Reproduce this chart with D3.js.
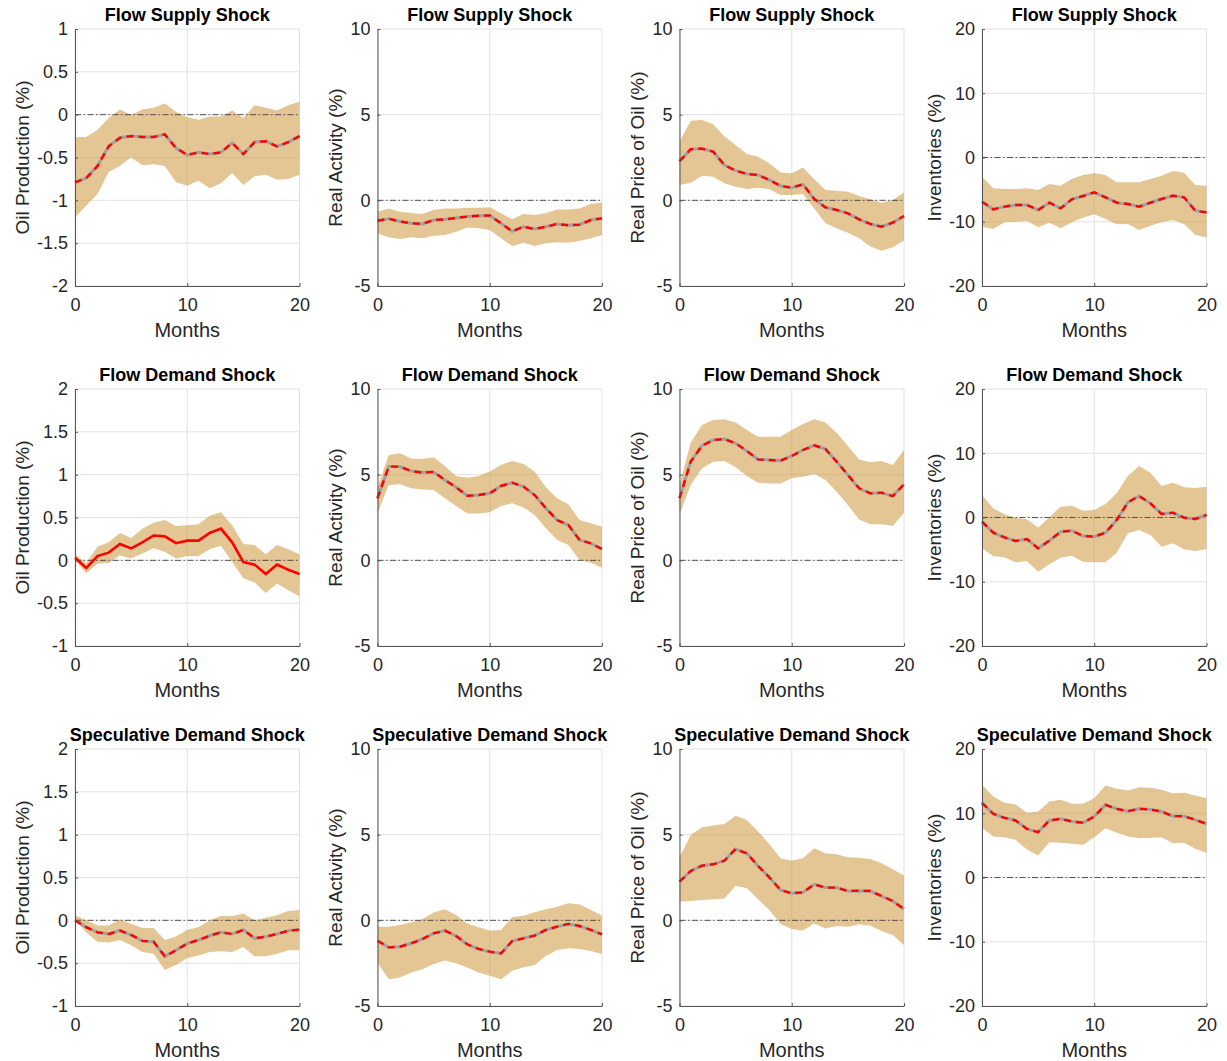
<!DOCTYPE html>
<html>
<head>
<meta charset="utf-8">
<script src="https://cdn.jsdelivr.net/npm/d3@7"></script>
<style>
  body { margin: 0; background: #fff; }
  svg { font-family: "Liberation Sans", Arial, Helvetica, sans-serif; }
  .tick text { fill: #262626; font-size: 18px; }
  .domain { stroke: #555; }
  .tick line { stroke: #555; }
</style>
</head>
<body>
<div id="chart"></div>
<script>
// horizon (months after the shock)
const months = [0, 1, 2, 3, 4, 5, 6, 7, 8, 9, 10, 11, 12, 13, 14, 15, 16, 17, 18, 19, 20];

const shockTitles = ["Flow Supply Shock", "Flow Demand Shock", "Speculative Demand Shock"];
const varLabels = ["Oil Production (%)", "Real Activity (%)", "Real Price of Oil (%)", "Inventories (%)"];
const xTicks = [0, 10, 20];

// y-axis limits and ticks per panel row/column
const oilDomainSupply = [-2, 1];
const oilDomainOther = [-1, 2];
const oilTicksSupply = [-2, -1.5, -1, -0.5, 0, 0.5, 1];
const oilTicksOther = [-1, -0.5, 0, 0.5, 1, 1.5, 2];
const pctDomain = [-5, 10];
const pctTicks = [-5, 0, 5, 10];
const invDomain = [-20, 20];
const invTicks = [-20, -10, 0, 10, 20];

// ---- flow supply shock
const supplyOilMed = [-0.79,-0.74,-0.60,-0.37,-0.27,-0.25,-0.26,-0.26,-0.23,-0.39,-0.47,-0.44,-0.46,-0.44,-0.33,-0.46,-0.32,-0.31,-0.37,-0.32,-0.25];
const supplyOilHi = [-0.26,-0.26,-0.18,-0.04,0.06,0.00,0.06,0.08,0.13,0.035,-0.03,-0.06,-0.02,-0.02,0.05,-0.04,0.11,0.08,0.05,0.11,0.15];
const supplyOilLo = [-1.20,-1.06,-0.93,-0.67,-0.60,-0.50,-0.59,-0.58,-0.60,-0.79,-0.83,-0.77,-0.86,-0.80,-0.68,-0.82,-0.72,-0.70,-0.76,-0.75,-0.70];

const supplyActMed = [-1.19,-1.07,-1.23,-1.34,-1.38,-1.15,-1.11,-1.03,-0.95,-0.90,-0.88,-1.34,-1.81,-1.54,-1.67,-1.54,-1.38,-1.46,-1.42,-1.15,-1.05];
const supplyActHi = [-0.66,-0.47,-0.66,-0.74,-0.80,-0.56,-0.47,-0.47,-0.43,-0.43,-0.41,-0.76,-1.11,-0.80,-0.86,-0.76,-0.53,-0.53,-0.47,-0.21,-0.12];
const supplyActLo = [-1.93,-2.16,-2.26,-2.16,-2.22,-2.06,-2.02,-1.83,-1.58,-1.63,-1.73,-2.22,-2.67,-2.47,-2.67,-2.51,-2.45,-2.47,-2.37,-2.22,-2.02];

const supplyPriceMed = [2.28,2.98,3.02,2.84,2.06,1.73,1.54,1.48,1.19,0.84,0.74,0.93,0.08,-0.41,-0.56,-0.76,-1.11,-1.38,-1.54,-1.30,-0.91];
const supplyPriceHi = [3.42,4.65,4.69,4.44,3.72,3.23,2.70,2.55,2.16,1.63,1.58,1.91,1.23,0.60,0.56,0.50,0.25,0.06,-0.14,0.02,0.45];
const supplyPriceLo = [0.89,1.03,1.44,1.38,0.99,0.80,0.66,0.74,0.64,0.31,0.31,0.37,-0.47,-1.34,-1.63,-1.89,-2.22,-2.70,-2.94,-2.74,-2.35];

const supplyInvMed = [-6.87,-8.07,-7.65,-7.39,-7.39,-8.17,-7.03,-7.91,-6.51,-5.99,-5.42,-6.20,-7.03,-7.24,-7.65,-7.03,-6.46,-5.94,-6.20,-8.28,-8.54];
const supplyInvHi = [-2.98,-4.80,-4.90,-4.90,-4.80,-5.06,-4.12,-4.38,-3.35,-2.72,-2.46,-2.72,-3.86,-3.86,-3.86,-3.35,-2.83,-2.10,-2.36,-4.28,-4.38];
const supplyInvLo = [-10.77,-11.13,-10.09,-9.99,-9.88,-10.87,-10.14,-11.03,-10.09,-9.36,-8.85,-9.57,-10.40,-10.35,-11.29,-10.61,-10.09,-9.73,-10.35,-12.06,-12.43];

// ---- flow demand shock
const demandOilMed = [0.03,-0.09,0.05,0.09,0.19,0.14,0.21,0.29,0.28,0.20,0.23,0.23,0.32,0.37,0.21,-0.02,-0.05,-0.16,-0.05,-0.11,-0.16];
const demandOilHi = [0.07,-0.03,0.16,0.21,0.32,0.26,0.37,0.44,0.47,0.40,0.41,0.42,0.52,0.56,0.41,0.19,0.18,0.07,0.18,0.13,0.07];
const demandOilLo = [0.00,-0.15,-0.04,-0.03,0.06,0.02,0.08,0.14,0.10,0.02,0.05,0.05,0.13,0.17,-0.02,-0.21,-0.26,-0.38,-0.27,-0.35,-0.42];

const demandActMed = [3.62,5.47,5.47,5.21,5.12,5.16,4.69,4.26,3.77,3.81,3.91,4.34,4.53,4.30,3.81,3.04,2.35,2.06,1.19,0.99,0.66];
const demandActHi = [4.26,6.15,6.25,5.95,5.91,6.01,5.51,4.92,4.82,4.92,5.18,5.56,5.80,5.62,5.18,4.26,3.62,3.27,2.35,2.16,1.96];
const demandActLo = [2.74,4.40,4.44,4.20,4.14,4.10,3.62,3.17,2.74,2.74,2.80,3.17,3.33,3.09,2.65,1.87,1.19,0.89,0.02,-0.14,-0.43];

const demandPriceMed = [3.62,5.76,6.69,7.02,7.08,6.83,6.38,5.89,5.86,5.82,6.09,6.44,6.71,6.50,5.76,4.98,4.20,3.91,3.95,3.75,4.44];
const demandPriceHi = [4.40,6.87,7.90,8.19,8.23,8.04,7.61,7.22,7.22,7.22,7.61,7.96,8.23,8.04,7.45,6.67,5.89,5.72,5.80,5.56,6.44];
const demandPriceLo = [2.65,4.40,5.37,5.76,5.80,5.43,4.92,4.53,4.49,4.49,4.79,4.88,5.04,4.69,4.01,3.23,2.39,2.10,2.10,2.00,2.78];

const demandInvMed = [-0.65,-2.36,-3.09,-3.66,-3.35,-4.80,-3.61,-2.21,-2.05,-2.88,-2.98,-2.36,-0.39,2.36,3.35,2.20,0.54,0.75,-0.03,-0.23,0.39];
const demandInvHi = [3.50,1.43,0.49,-0.03,-0.29,-1.58,0.03,1.69,1.84,1.06,1.17,2.10,3.76,6.51,8.01,6.98,4.90,5.42,4.70,4.59,4.80];
const demandInvLo = [-4.80,-5.99,-6.20,-6.98,-6.77,-8.43,-7.29,-6.25,-5.94,-6.87,-6.98,-6.98,-5.47,-2.46,-1.95,-2.72,-4.54,-4.02,-4.95,-5.21,-4.90];

// ---- speculative demand shock
const specOilMed = [0.00,-0.08,-0.14,-0.16,-0.12,-0.17,-0.24,-0.25,-0.42,-0.35,-0.27,-0.23,-0.18,-0.14,-0.16,-0.11,-0.21,-0.19,-0.16,-0.12,-0.11];
const specOilHi = [0.06,0.00,-0.06,-0.06,0.01,-0.04,-0.09,-0.09,-0.23,-0.19,-0.11,-0.08,0.00,0.05,0.05,0.08,0.00,0.03,0.06,0.11,0.12];
const specOilLo = [0.00,-0.14,-0.25,-0.26,-0.23,-0.29,-0.37,-0.39,-0.58,-0.52,-0.44,-0.41,-0.37,-0.36,-0.37,-0.31,-0.42,-0.42,-0.39,-0.35,-0.35];

const specActMed = [-1.19,-1.58,-1.54,-1.34,-1.09,-0.76,-0.60,-0.91,-1.40,-1.67,-1.83,-1.93,-1.21,-1.05,-0.89,-0.56,-0.37,-0.21,-0.33,-0.56,-0.82];
const specActHi = [-0.37,-0.37,-0.27,-0.12,0.08,0.45,0.64,0.31,-0.18,-0.41,-0.60,-0.56,0.18,0.27,0.47,0.64,0.80,0.99,0.93,0.60,0.27];
const specActLo = [-2.47,-3.44,-3.33,-3.05,-2.86,-2.55,-2.35,-2.51,-2.76,-3.04,-3.23,-3.44,-2.94,-2.74,-2.61,-2.08,-1.73,-1.63,-1.67,-1.79,-1.96];

const specPriceMed = [2.26,2.88,3.19,3.27,3.48,4.16,3.91,3.17,2.51,1.77,1.58,1.63,2.10,1.91,1.91,1.71,1.73,1.71,1.42,1.13,0.66];
const specPriceHi = [3.68,4.98,5.43,5.53,5.62,6.11,5.86,5.18,4.46,3.62,3.48,3.62,4.20,3.91,3.85,3.68,3.66,3.58,3.33,2.98,2.61];
const specPriceLo = [1.09,1.13,1.19,1.23,1.28,2.02,1.87,1.23,0.60,-0.21,-0.51,-0.60,-0.18,-0.47,-0.33,-0.37,-0.23,-0.31,-0.62,-0.86,-1.44];

const specInvMed = [11.62,9.91,9.29,8.87,7.57,7.06,8.87,9.13,8.72,8.51,9.49,11.31,10.69,10.32,10.69,10.58,10.27,9.55,9.55,8.98,8.35];
const specInvHi = [14.42,12.61,11.62,11.36,10.06,10.27,11.83,12.09,11.47,11.47,12.35,14.32,13.80,13.54,14.06,13.96,13.64,13.12,13.18,12.76,12.35];
const specInvLo = [7.73,6.38,6.28,5.86,4.36,3.42,5.50,5.40,5.24,5.08,6.28,7.68,6.95,6.38,6.12,6.17,6.28,5.34,5.40,4.46,3.84];

// panels: [row][col] -> {med, lo, hi}
const panels = [
    [
        {med: supplyOilMed, lo: supplyOilLo, hi: supplyOilHi, domain: oilDomainSupply, ticks: oilTicksSupply},
        {med: supplyActMed, lo: supplyActLo, hi: supplyActHi, domain: pctDomain, ticks: pctTicks},
        {med: supplyPriceMed, lo: supplyPriceLo, hi: supplyPriceHi, domain: pctDomain, ticks: pctTicks},
        {med: supplyInvMed, lo: supplyInvLo, hi: supplyInvHi, domain: invDomain, ticks: invTicks}
    ],
    [
        {med: demandOilMed, lo: demandOilLo, hi: demandOilHi, domain: oilDomainOther, ticks: oilTicksOther, solid: true},
        {med: demandActMed, lo: demandActLo, hi: demandActHi, domain: pctDomain, ticks: pctTicks},
        {med: demandPriceMed, lo: demandPriceLo, hi: demandPriceHi, domain: pctDomain, ticks: pctTicks},
        {med: demandInvMed, lo: demandInvLo, hi: demandInvHi, domain: invDomain, ticks: invTicks}
    ],
    [
        {med: specOilMed, lo: specOilLo, hi: specOilHi, domain: oilDomainOther, ticks: oilTicksOther},
        {med: specActMed, lo: specActLo, hi: specActHi, domain: pctDomain, ticks: pctTicks},
        {med: specPriceMed, lo: specPriceLo, hi: specPriceHi, domain: pctDomain, ticks: pctTicks},
        {med: specInvMed, lo: specInvLo, hi: specInvHi, domain: invDomain, ticks: invTicks}
    ]
];

// layout
const W = 1227, H = 1061;
const colLeft = [75, 377.5, 679.5, 982];
const rowTop = [29, 389, 749];
const plotW = 224.5, plotH = 257;

const svg = d3.select("#chart").append("svg")
    .attr("width", W)
    .attr("height", H);

panels.forEach((row, r) => {
    row.forEach((p, c) => {
        const g = svg.append("g")
            .attr("transform", "translate(" + colLeft[c] + "," + rowTop[r] + ")");

        const x = d3.scaleLinear().domain([0, 20]).range([0, plotW]);
        const y = d3.scaleLinear().domain(p.domain).range([plotH, 0]);

        // grid
        g.append("g").selectAll("line.gy")
            .data(p.ticks)
            .enter().append("line")
            .attr("x1", 0).attr("x2", plotW)
            .attr("y1", d => y(d)).attr("y2", d => y(d))
            .attr("stroke", "#e2e2e2").attr("stroke-width", 1);
        g.append("g").selectAll("line.gx")
            .data(xTicks)
            .enter().append("line")
            .attr("x1", d => x(d)).attr("x2", d => x(d))
            .attr("y1", 0).attr("y2", plotH)
            .attr("stroke", "#e2e2e2").attr("stroke-width", 1);

        // confidence band
        const area = d3.area()
            .x((d, i) => x(months[i]))
            .y0((d, i) => y(p.lo[i]))
            .y1((d, i) => y(p.hi[i]));
        g.append("path")
            .attr("d", area(p.med))
            .attr("fill", "rgb(205,150,60)")
            .attr("fill-opacity", 0.55);

        // zero line
        g.append("line")
            .attr("x1", x(0)).attr("x2", x(20))
            .attr("y1", y(0)).attr("y2", y(0))
            .attr("stroke", "#444")
            .attr("stroke-width", 0.9)
            .attr("stroke-dasharray", "6,2.5,1.5,2.5");

        const line = d3.line()
            .x((d, i) => x(months[i]))
            .y(d => y(d));

        if (p.solid) {
            g.append("path")
                .attr("d", line(p.med))
                .attr("fill", "none")
                .attr("stroke", "#ff0000")
                .attr("stroke-width", 2.6);
        } else {
            g.append("path")
                .attr("d", line(p.med))
                .attr("fill", "none")
                .attr("stroke", "#a0a0a0")
                .attr("stroke-width", 3);
            g.append("path")
                .attr("d", line(p.med))
                .attr("fill", "none")
                .attr("stroke", "#ff0000")
                .attr("stroke-width", 2.4)
                .attr("stroke-dasharray", "7,5");
        }

        // axes
        const ax = g.append("g")
            .attr("transform", "translate(0," + plotH + ")")
            .call(d3.axisBottom(x).tickValues(xTicks).tickFormat(d3.format("d"))
                .tickSizeInner(-3).tickSizeOuter(0).tickPadding(12));
        const ay = g.append("g")
            .call(d3.axisLeft(y).tickValues(p.ticks).tickFormat(d => String(d))
                .tickSizeInner(-3).tickSizeOuter(0).tickPadding(7));
        ax.select(".domain").attr("stroke", "#555");
        ay.select(".domain").attr("stroke", "#555");

        // title
        g.append("text")
            .attr("x", plotW / 2)
            .attr("y", -8)
            .attr("text-anchor", "middle")
            .style("font-size", "18px")
            .style("font-weight", "bold")
            .attr("fill", "#000")
            .text(shockTitles[r]);

        // x label
        g.append("text")
            .attr("x", plotW / 2)
            .attr("y", plotH + 51)
            .attr("text-anchor", "middle")
            .style("font-size", "20px")
            .attr("fill", "#262626")
            .text("Months");

        // y label, placed left of the tick labels
        const bb = ay.node().getBBox();
        g.append("text")
            .attr("transform", "translate(" + (bb.x - 8) + "," + (plotH / 2) + ")rotate(-90)")
            .attr("text-anchor", "middle")
            .style("font-size", "19px")
            .attr("fill", "#262626")
            .text(varLabels[c]);
    });
});
</script>
</body>
</html>
